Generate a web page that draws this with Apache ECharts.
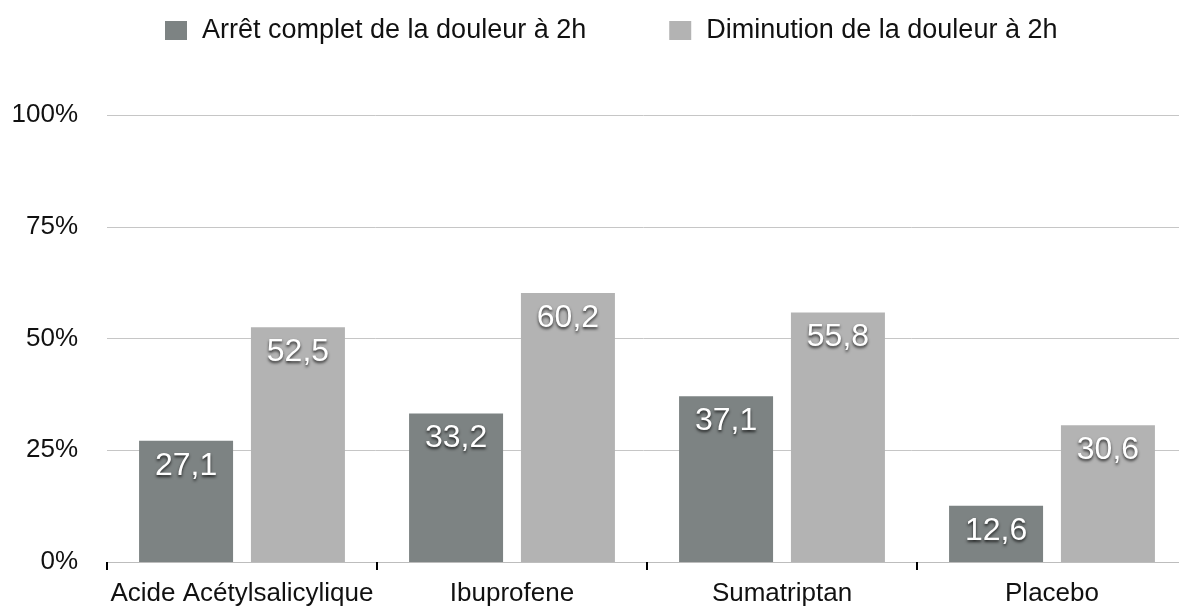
<!DOCTYPE html>
<html>
<head>
<meta charset="utf-8">
<script src="https://cdn.jsdelivr.net/npm/echarts@6/dist/echarts.min.js"></script>
<style>
  html, body { margin: 0; padding: 0; background: #fff; }
  #chart { width: 1179px; height: 608px; }
</style>
</head>
<body>
<div id="chart"></div>
<script>
    // données
    const categories = ['Acide Acétylsalicylique', 'Ibuprofene', 'Sumatriptan', 'Placebo'];
    const seriesNames = ['Arrêt complet de la douleur à 2h', 'Diminution de la douleur à 2h'];
    const arretComplet = [27.1, 33.2, 37.1, 12.6];
    const diminution = [52.5, 60.2, 55.8, 30.6];
    const yTicks = [0, 25, 50, 75, 100];

    const font = 'Helvetica, "Liberation Sans", Arial, sans-serif';

    const barLabel = {
        show: true,
        position: 'insideTop',
        distance: 9,
        color: '#fff',
        fontSize: 32,
        fontFamily: font,
        textShadowColor: 'rgba(0,0,0,0.75)',
        textShadowBlur: 3,
        textShadowOffsetY: 2,
        formatter: (p) => p.value.toFixed(1).replace('.', ',')
    };

    const chart = echarts.init(document.getElementById('chart'));
    chart.setOption({
        animation: false,
        legend: {
            left: 160,
            top: 12,
            itemWidth: 22,
            itemHeight: 19,
            itemGap: 83,
            icon: 'rect',
            textStyle: {
                fontSize: 27,
                fontFamily: font,
                color: '#111',
                padding: [0, 0, 0, 10]
            },
            data: seriesNames
        },
        grid: {
            left: 107,
            top: 115,
            bottom: 46,
            right: -8,
            outerBoundsMode: 'none'
        },
        xAxis: {
            type: 'category',
            data: categories,
            axisLine: { lineStyle: { color: '#bdbdbd', width: 1 } },
            axisTick: { show: true, interval: 0, length: 8, lineStyle: { color: '#000', width: 2 } },
            axisLabel: {
                interval: 0,
                fontSize: 26,
                fontFamily: font,
                color: '#111',
                margin: 19
            }
        },
        yAxis: {
            type: 'value',
            min: yTicks[0],
            max: yTicks[yTicks.length - 1],
            interval: 25,
            axisLine: { show: false },
            axisTick: { show: false },
            splitLine: { lineStyle: { color: '#c6c6c6', width: 1 } },
            axisLabel: {
                fontSize: 26,
                fontFamily: font,
                color: '#111',
                margin: 29,
                formatter: '{value}%'
            }
        },
        series: [{
            name: seriesNames[0],
            type: 'bar',
            data: arretComplet,
            barWidth: 94,
            barGap: '19%',
            itemStyle: { color: '#7d8383' },
            label: barLabel
        }, {
            name: seriesNames[1],
            type: 'bar',
            data: diminution,
            barWidth: 94,
            itemStyle: { color: '#b3b3b3' },
            label: barLabel
        }]
    });
</script>
</body>
</html>
